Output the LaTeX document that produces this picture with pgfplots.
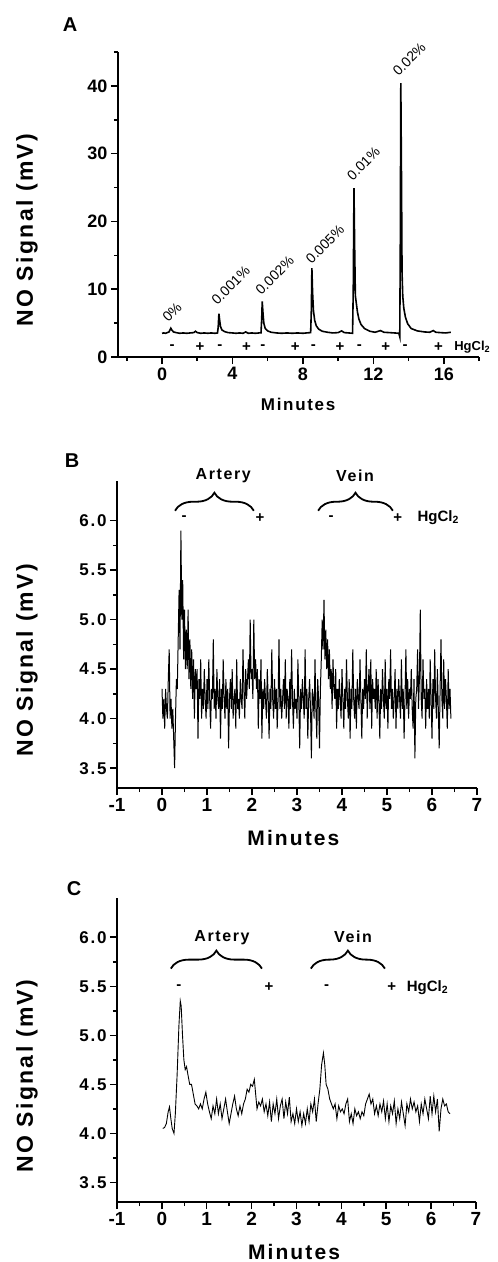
\documentclass[border=0pt]{standalone}
\usepackage{fontspec}
\setmainfont{Liberation Sans}
\newfontfamily\spaced[LetterSpace=10]{Liberation Sans}
\usepackage{pgfplots}
\pgfplotsset{compat=1.18}
\usetikzlibrary{decorations.pathreplacing}

\newcommand{\fs}[1]{\fontsize{#1}{#1}\selectfont}

\pgfplotsset{
  trace/.style={
    scale only axis, clip=false,
    axis x line*=bottom, axis y line*=left,
    axis line style={-, line width=1.8pt},
    tick align=outside,
    major tick length=7pt, minor tick length=4pt,
    tick style={line width=1.5pt, black},
    /pgf/number format/assume math mode=true,
    ylabel={NO Signal (mV)},
    xlabel={Minutes},
  },
  bracefig/.style={
    xmin=-1, xmax=7, ymin=3.3, ymax=6.4,
    xtick={-1,0,...,7}, minor x tick num=1,
    ytick={3.5,4,4.5,5,5.5,6}, minor y tick num=1,
    yticklabel style={font=\spaced\bfseries\fs{17},
      /pgf/number format/.cd, fixed, fixed zerofill, precision=1},
    xticklabel style={font=\bfseries\fs{19}},
    ylabel style={at={(axis description cs:-0.25,0.416)}, anchor=center,
      font=\spaced\bfseries\fs{23}},
    xlabel style={at={(axis description cs:0.49,-0.162)}, anchor=center,
      font=\spaced\bfseries\fs{21}},
  },
}

\begin{document}
\begin{tikzpicture}
\path[use as bounding box] (0pt,0pt) rectangle (498pt,-1262pt);

% ---------------- A
\node[font=\bfseries\fs{20}] at (70pt,-25pt) {A};
\begin{axis}[trace,
    at={(118pt,-357pt)}, anchor=south west,
    width=361pt, height=305pt,
    xmin=-2.5, xmax=18, ymin=0, ymax=45,
    xtick={0,4,...,16}, minor xtick={-2,2,6,10,14,18},
    ytick={0,10,...,40}, minor ytick={5,15,25,35,45},
    xticklabel style={font=\bfseries\fs{18}},
    yticklabel style={font=\bfseries\fs{18}},
    ylabel style={at={(axis description cs:-0.252,0.416)}, anchor=center,
      font=\spaced\bfseries\fs{23}},
    xlabel style={at={(axis description cs:0.499,-0.157)}, anchor=center,
      font=\spaced\bfseries\fs{17}},
  ]
\addplot[black, line width=1.6pt] coordinates {
(0,3.5)(0.1,3.55)(0.2,3.5)(0.3,3.6)(0.4,3.7)(0.45,4.0)(0.5,4.25)(0.55,4.0)(0.65,3.7)(0.8,3.6)
(1.0,3.5)(1.2,3.55)(1.4,3.5)(1.6,3.55)(1.8,3.6)(1.9,3.8)(2.0,3.6)(2.2,3.5)(2.4,3.55)(2.6,3.5)
(2.8,3.55)(3.0,3.5)(3.15,3.55)(3.19,4.4)(3.23,6.4)(3.27,5.5)(3.32,4.5)(3.4,4.0)(3.55,3.75)(3.75,3.6)
(4.0,3.55)(4.2,3.5)(4.4,3.55)(4.6,3.5)(4.75,3.7)(4.9,3.5)(5.1,3.55)(5.3,3.5)(5.5,3.55)(5.62,3.55)
(5.66,5.6)(5.69,8.2)(5.73,6.6)(5.78,5.0)(5.86,4.2)(6.0,3.85)(6.2,3.65)(6.5,3.55)(6.8,3.5)(7.1,3.55)
(7.4,3.5)(7.7,3.55)(8.0,3.5)(8.2,3.55)(8.44,3.6)(8.48,7.0)(8.51,13.1)(8.55,9.5)(8.6,6.8)(8.67,5.4)
(8.76,4.6)(8.9,4.1)(9.1,3.8)(9.4,3.65)(9.7,3.55)(10.0,3.6)(10.2,3.85)(10.35,3.6)(10.6,3.55)(10.82,3.5)
(10.86,10.0)(10.9,24.9)(10.94,16.0)(10.98,9.0)(11.04,7.8)(11.1,6.6)(11.18,5.6)(11.3,4.8)(11.5,4.2)(11.8,3.8)
(12.1,3.65)(12.4,3.9)(12.6,3.65)(12.9,3.6)(13.2,3.55)(13.45,3.5)(13.5,3.0)(13.53,16.0)(13.56,40.4)(13.6,26.0)
(13.63,12.5)(13.67,9.0)(13.73,7.2)(13.82,5.9)(13.95,4.9)(14.15,4.2)(14.5,3.85)(14.9,3.7)(15.2,3.65)(15.4,3.9)
(15.55,3.65)(15.8,3.6)(16.1,3.55)(16.4,3.65)
};
\begin{scope}[font=\fs{14}]
\node[rotate=45, anchor=base west] at (axis cs:0.22,4.7) {0\%};
\node[rotate=45, anchor=base west] at (axis cs:3.0,7.2) {0.001\%};
\node[rotate=45, anchor=base west] at (axis cs:5.5,8.7) {0.002\%};
\node[rotate=45, anchor=base west] at (axis cs:8.35,13.3) {0.005\%};
\node[rotate=45, anchor=base west] at (axis cs:10.7,25.6) {0.01\%};
\node[rotate=45, anchor=base west] at (axis cs:13.3,41.0) {0.02\%};
\end{scope}
\begin{scope}[font=\bfseries\fs{15}]
\node at (axis cs:0.58,1.5) {-};
\node at (axis cs:2.15,1.5) {+};
\node at (axis cs:3.28,1.5) {-};
\node at (axis cs:4.8,1.5) {+};
\node at (axis cs:5.72,1.5) {-};
\node at (axis cs:7.57,1.5) {+};
\node at (axis cs:8.6,1.5) {-};
\node at (axis cs:10.1,1.5) {+};
\node at (axis cs:11.2,1.5) {-};
\node at (axis cs:12.7,1.5) {+};
\node at (axis cs:13.8,1.5) {-};
\node at (axis cs:15.7,1.5) {+};
\node[anchor=west, font=\bfseries\fs{13}] at (axis cs:16.4,1.5) {HgCl\textsubscript{2}};
\end{scope}
\end{axis}

% ---------------- B
\node[font=\bfseries\fs{20}] at (72pt,-461pt) {B};
\begin{axis}[trace, bracefig,
    at={(117pt,-788pt)}, anchor=south west,
    width=360pt, height=307pt,
  ]
\addplot[black, line width=1.0pt] coordinates {
(0.00,4.3)(0.02,4.0)(0.04,4.2)(0.06,3.9)(0.08,4.3)(0.10,4.1)(0.12,4.0)(0.14,4.4)(0.16,4.7)(0.18,4.0)
(0.20,4.2)(0.22,3.9)(0.24,4.1)(0.26,3.8)(0.28,3.5)(0.30,4.0)(0.32,4.4)(0.34,4.3)(0.36,4.8)(0.38,5.3)
(0.40,4.7)(0.42,5.9)(0.44,5.0)(0.46,5.4)(0.48,4.6)(0.50,5.1)(0.52,4.5)(0.54,4.9)(0.56,4.5)(0.58,5.1)
(0.60,4.4)(0.62,4.8)(0.64,4.3)(0.66,4.7)(0.68,4.2)(0.70,4.6)(0.72,4.0)(0.74,4.5)(0.76,4.3)(0.78,4.5)
(0.80,3.8)(0.82,4.4)(0.84,4.2)(0.86,4.6)(0.88,4.0)(0.90,4.3)
(0.92,4.1)(0.94,4.5)(0.96,4.2)(0.98,4.0)(1.00,4.4)(1.02,4.1)(1.04,4.6)(1.06,4.2)(1.08,3.9)(1.10,4.3)
(1.12,4.2)(1.14,4.8)(1.16,4.1)(1.18,4.3)(1.20,4.0)(1.22,4.5)(1.24,4.2)(1.26,4.1)(1.28,4.4)(1.30,3.8)
(1.32,4.3)(1.34,4.1)(1.36,4.6)(1.38,4.2)(1.40,4.0)(1.42,4.4)(1.44,4.1)(1.46,4.3)(1.48,3.7)(1.50,4.2)
(1.52,4.4)(1.54,4.1)(1.56,4.5)(1.58,4.0)(1.60,4.2)(1.62,4.3)(1.64,3.9)(1.66,4.6)(1.68,4.1)(1.70,4.2)
(1.72,4.0)(1.74,4.4)(1.76,4.2)(1.78,4.1)(1.80,4.7)(1.82,4.3)(1.84,4.0)(1.86,4.5)(1.88,4.2)(1.90,4.4)
(1.92,4.6)(1.94,4.3)(1.96,5.0)(1.98,4.4)(2.00,4.5)(2.02,4.2)(2.04,5.0)(2.06,4.4)(2.08,4.6)(2.10,4.3)
(2.12,4.5)(2.14,3.9)(2.16,4.4)(2.18,4.2)(2.20,4.6)(2.22,3.8)(2.24,4.3)(2.26,4.1)(2.28,4.4)(2.30,4.2)
(2.32,4.0)(2.34,4.5)(2.36,4.2)(2.38,3.8)(2.40,4.3)(2.42,4.1)(2.44,4.7)(2.46,4.2)(2.48,4.0)(2.50,4.4)
(2.52,4.1)(2.54,4.3)(2.56,3.9)(2.58,4.2)(2.60,4.8)(2.62,4.1)(2.64,4.3)(2.66,4.0)(2.68,4.2)(2.70,4.4)
(2.72,4.1)(2.74,4.6)(2.76,4.0)(2.78,4.3)(2.80,4.2)(2.82,3.9)(2.84,4.4)(2.86,4.1)(2.88,4.7)(2.90,4.2)
(2.92,3.9)(2.94,4.3)(2.96,4.1)(2.98,4.2)(3.00,4.0)(3.02,4.6)(3.04,4.2)(3.06,3.7)(3.08,4.3)(3.10,4.1)
(3.12,4.4)(3.14,4.2)(3.16,4.0)(3.18,4.7)(3.20,4.1)(3.22,4.3)(3.24,3.8)(3.26,4.2)(3.28,4.4)(3.30,4.1)
(3.32,3.6)(3.34,4.3)(3.36,4.2)(3.38,4.0)(3.40,4.6)(3.42,4.1)(3.44,3.8)(3.46,4.4)(3.48,4.2)(3.50,3.7)
(3.52,4.3)(3.54,4.6)(3.56,5.0)(3.58,4.7)(3.60,5.2)(3.62,4.6)(3.64,4.9)(3.66,4.5)(3.68,4.8)(3.70,4.4)
(3.72,4.7)(3.74,4.3)(3.76,4.5)(3.78,4.1)(3.80,4.6)(3.82,4.3)(3.84,4.2)(3.86,4.5)(3.88,3.9)(3.90,4.3)
(3.92,4.1)(3.94,4.4)(3.96,4.2)(3.98,4.0)(4.00,4.5)(4.02,4.2)(4.04,3.9)(4.06,4.3)(4.08,4.1)(4.10,4.6)
(4.12,4.2)(4.14,4.0)(4.16,4.4)(4.18,3.8)(4.20,4.3)(4.22,4.1)(4.24,4.7)(4.26,4.2)(4.28,4.0)(4.30,4.3)
(4.32,3.9)(4.34,4.4)(4.36,4.2)(4.38,4.1)(4.40,4.6)(4.42,4.2)(4.44,3.8)(4.46,4.3)(4.48,4.1)(4.50,4.4)
(4.52,4.2)(4.54,4.7)(4.56,4.0)(4.58,4.3)(4.60,4.5)(4.62,4.1)(4.64,4.6)(4.66,3.9)(4.68,4.4)(4.70,4.2)
(4.72,4.3)(4.74,4.1)(4.76,4.5)(4.78,4.0)(4.80,4.4)(4.82,4.2)(4.84,3.8)(4.86,4.3)(4.88,4.1)(4.90,4.5)
(4.92,4.2)(4.94,4.0)(4.96,4.6)(4.98,4.1)(5.00,4.3)(5.02,3.9)(5.04,4.4)(5.06,4.2)(5.08,4.7)(5.10,4.1)
(5.12,4.3)(5.14,4.0)(5.16,4.2)(5.18,4.5)(5.20,3.9)(5.22,4.3)(5.24,4.1)(5.26,4.4)(5.28,4.2)(5.30,4.0)
(5.32,4.6)(5.34,4.1)(5.36,4.3)(5.38,3.8)(5.40,4.2)(5.42,4.7)(5.44,4.1)(5.46,4.4)(5.48,4.0)(5.50,4.3)
(5.52,4.2)(5.54,4.5)(5.56,4.1)(5.58,3.9)(5.60,4.4)(5.62,3.6)(5.64,4.2)(5.66,4.3)(5.68,4.7)(5.70,4.1)
(5.72,4.4)(5.74,5.1)(5.76,4.2)(5.78,4.0)(5.80,4.6)(5.82,4.2)(5.84,4.3)(5.86,3.9)(5.88,4.4)(5.90,4.1)
(5.92,4.3)(5.94,4.0)(5.96,4.6)(5.98,4.2)(6.00,3.8)(6.02,4.4)(6.04,4.1)(6.06,4.7)(6.08,4.2)(6.10,4.0)
(6.12,4.5)(6.14,4.1)(6.16,3.7)(6.18,4.3)(6.20,4.8)(6.22,4.2)(6.24,4.0)(6.26,4.6)(6.28,4.1)(6.30,4.4)
(6.32,4.2)(6.34,3.9)(6.36,4.5)(6.38,4.1)(6.40,4.3)(6.42,4.0)
};
\draw[decorate, decoration={brace, amplitude=18pt}, line width=1.8pt]
  (axis cs:0.29,6.10) -- (axis cs:2.04,6.10);
\draw[decorate, decoration={brace, amplitude=18pt}, line width=1.8pt]
  (axis cs:3.47,6.10) -- (axis cs:5.13,6.10);
\node[font=\spaced\bfseries\fs{16}] at (axis cs:1.36,6.45) {Artery};
\node[font=\spaced\bfseries\fs{16}] at (axis cs:4.29,6.45) {Vein};
\begin{scope}[font=\bfseries\fs{15}]
\node at (axis cs:0.49,6.03) {-};
\node at (axis cs:2.18,6.03) {+};
\node at (axis cs:3.76,6.03) {-};
\node at (axis cs:5.24,6.03) {+};
\node[anchor=west] at (axis cs:5.6,6.03) {HgCl\textsubscript{2}};
\end{scope}
\end{axis}

% ---------------- C
\node[font=\bfseries\fs{20}] at (74pt,-889pt) {C};
\begin{axis}[trace, bracefig,
    at={(117pt,-1202pt)}, anchor=south west,
    width=359pt, height=304pt,
    ylabel style={at={(axis description cs:-0.251,0.414)}},
    xlabel style={at={(axis description cs:0.493,-0.164)}},
  ]
\addplot[black, line width=0.9pt] coordinates {
(0.02,4.05)(0.06,4.06)(0.10,4.1)(0.14,4.22)(0.17,4.27)(0.20,4.15)(0.23,4.05)(0.27,4.0)(0.30,4.2)(0.34,4.6)
(0.38,5.1)(0.41,5.35)(0.43,5.3)(0.46,5.0)(0.49,4.75)(0.52,4.65)(0.55,4.68)(0.58,4.6)(0.62,4.5)(0.66,4.5)
(0.70,4.4)(0.74,4.3)(0.78,4.28)(0.82,4.25)(0.86,4.3)(0.90,4.25)(0.94,4.35)(0.98,4.42)(1.02,4.3)(1.06,4.22)
(1.10,4.15)(1.14,4.28)(1.18,4.2)(1.22,4.35)(1.26,4.2)(1.30,4.3)(1.34,4.15)(1.38,4.25)(1.42,4.35)(1.46,4.22)
(1.50,4.1)(1.54,4.2)(1.58,4.3)(1.62,4.38)(1.66,4.25)(1.70,4.18)(1.74,4.28)(1.78,4.2)(1.82,4.3)(1.86,4.35)
(1.90,4.45)(1.94,4.42)(1.98,4.5)(2.02,4.48)(2.06,4.55)(2.08,4.45)(2.12,4.25)(2.16,4.32)(2.20,4.28)(2.24,4.35)
(2.28,4.22)(2.32,4.3)(2.36,4.18)(2.40,4.32)(2.44,4.12)(2.48,4.3)(2.52,4.2)(2.56,4.35)(2.60,4.15)(2.64,4.28)
(2.68,4.35)(2.72,4.15)(2.76,4.32)(2.80,4.2)(2.84,4.37)(2.88,4.12)(2.92,4.2)(2.96,4.1)(3.00,4.25)(3.04,4.12)
(3.08,4.22)(3.12,4.08)(3.16,4.2)(3.20,4.1)(3.24,4.25)(3.28,4.12)(3.32,4.3)(3.36,4.22)(3.40,4.35)(3.44,4.12)
(3.48,4.3)(3.52,4.45)(3.56,4.7)(3.60,4.82)(3.63,4.7)(3.66,4.5)(3.70,4.45)(3.74,4.35)(3.78,4.3)(3.82,4.25)
(3.86,4.3)(3.90,4.15)(3.94,4.28)(3.98,4.22)(4.02,4.25)(4.06,4.2)(4.10,4.3)(4.14,4.35)(4.18,4.12)(4.22,4.2)
(4.26,4.1)(4.30,4.25)(4.34,4.18)(4.38,4.22)(4.42,4.15)(4.46,4.22)(4.50,4.18)(4.54,4.3)(4.58,4.35)(4.62,4.4)
(4.66,4.3)(4.70,4.35)(4.74,4.2)(4.78,4.28)(4.82,4.18)(4.86,4.3)(4.90,4.22)(4.94,4.33)(4.98,4.15)(5.02,4.3)
(5.06,4.12)(5.10,4.28)(5.14,4.2)(5.18,4.33)(5.22,4.1)(5.26,4.25)(5.30,4.15)(5.34,4.32)(5.38,4.2)(5.42,4.08)
(5.46,4.3)(5.50,4.22)(5.54,4.35)(5.58,4.25)(5.62,4.32)(5.66,4.22)(5.70,4.28)(5.74,4.12)(5.78,4.3)(5.82,4.2)
(5.86,4.35)(5.90,4.25)(5.94,4.15)(5.98,4.38)(6.02,4.2)(6.06,4.38)(6.10,4.22)(6.14,4.35)(6.18,4.02)(6.22,4.25)
(6.26,4.35)(6.30,4.28)(6.34,4.3)(6.38,4.22)(6.42,4.2)
};
\draw[decorate, decoration={brace, amplitude=18pt}, line width=1.8pt]
  (axis cs:0.20,5.68) -- (axis cs:2.23,5.68);
\draw[decorate, decoration={brace, amplitude=18pt}, line width=1.8pt]
  (axis cs:3.32,5.68) -- (axis cs:4.97,5.68);
\node[font=\spaced\bfseries\fs{16}] at (axis cs:1.34,6.0) {Artery};
\node[font=\spaced\bfseries\fs{16}] at (axis cs:4.26,6.0) {Vein};
\begin{scope}[font=\bfseries\fs{15}]
\node at (axis cs:0.38,5.49) {-};
\node at (axis cs:2.39,5.49) {+};
\node at (axis cs:3.67,5.49) {-};
\node at (axis cs:5.12,5.49) {+};
\node[anchor=west] at (axis cs:5.38,5.49) {HgCl\textsubscript{2}};
\end{scope}
\end{axis}
\end{tikzpicture}
\end{document}
